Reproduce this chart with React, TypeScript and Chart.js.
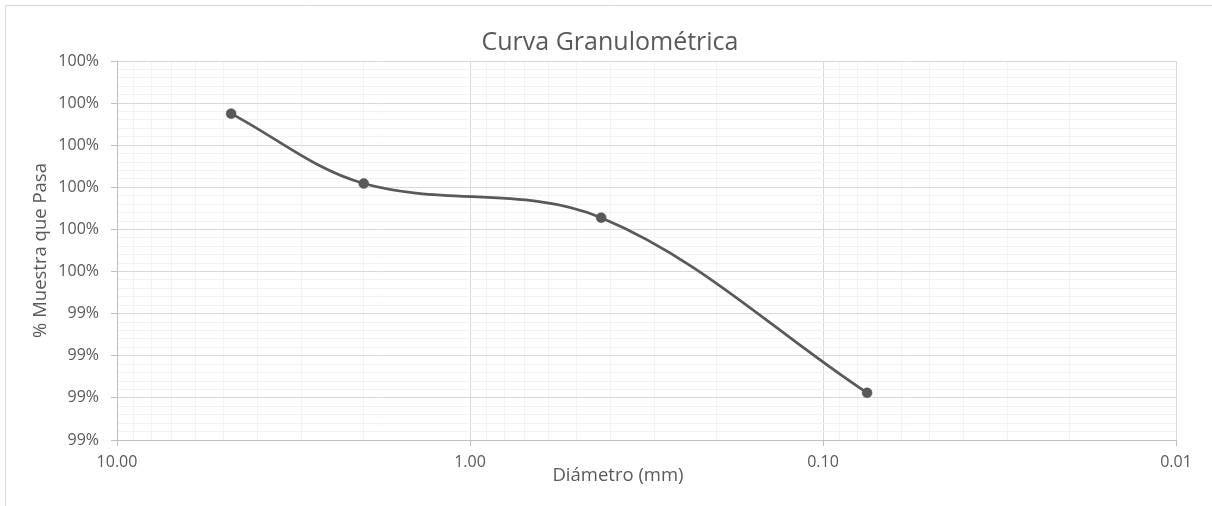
import { useEffect, useRef } from 'react';
import { Chart, registerables } from 'chart.js';

Chart.register(...registerables);

// Sieve openings (mm) and cumulative percentage passing
const diametersMm = [4.75, 2.0, 0.425, 0.075];
const percentPassing = [99.875, 99.709, 99.628, 99.212];

// Axis definitions
const xMajorTicks = [10, 1, 0.1, 0.01];
const xMajorLabels = ['10.00', '1.00', '0.10', '0.01'];
const yMin = 99.1;
const yMax = 100.0;
const yMajorStep = 0.1;
const yMinorPerMajor = 5;

const chartTitle = 'Curva Granulométrica';
const xAxisTitle = 'Diámetro (mm)';
const yAxisTitle = '% Muestra que Pasa';

const FONT = "'Open Sans', 'Noto Sans', sans-serif";
const TEXT_COLOR = '#595959';
const MAJOR_GRID = '#d9d9d9';
const MINOR_GRID = '#f2f2f2';
const AXIS_LINE = '#bfbfbf';

const isMajorX = (v: number) => xMajorTicks.some((m) => Math.abs(Math.log10(v) - Math.log10(m)) < 1e-6);

// Titles and the outer frame are painted by this plugin
const decorations = {
  id: 'decorations',
  beforeDraw(chart: any) {
    const { ctx } = chart;
    ctx.save();
    ctx.strokeStyle = MAJOR_GRID;
    ctx.lineWidth = 1;
    ctx.beginPath();
    ctx.moveTo(5.5, chart.height + 2);
    ctx.lineTo(5.5, 5.5);
    ctx.lineTo(chart.width + 2, 5.5);
    ctx.stroke();
    ctx.restore();
  },
  afterDraw(chart: any) {
    const { ctx, chartArea } = chart;
    ctx.save();
    ctx.fillStyle = TEXT_COLOR;
    ctx.textAlign = 'center';
    ctx.textBaseline = 'alphabetic';

    ctx.font = `25px ${FONT}`;
    ctx.fillText(chartTitle, 610, 50);

    ctx.font = `18.5px ${FONT}`;
    ctx.fillText(xAxisTitle, 618, 481);

    ctx.translate(46, (chartArea.top + chartArea.bottom) / 2);
    ctx.rotate(-Math.PI / 2);
    ctx.fillText(yAxisTitle, 0, 0);
    ctx.restore();
  },
};

export default function App() {
  const canvasRef = useRef<HTMLCanvasElement | null>(null);

  useEffect(() => {
    if (!canvasRef.current) return;
    const points = diametersMm.map((d, i) => ({ x: d, y: percentPassing[i] }));

    const chart = new Chart(canvasRef.current, {
      type: 'scatter',
      data: {
        datasets: [
          {
            data: points,
            showLine: true,
            borderColor: '#595959',
            borderWidth: 2.75,
            tension: 0.35,
            pointRadius: 5,
            pointBorderWidth: 0.5,
            pointBackgroundColor: '#595959',
            pointBorderColor: '#595959',
          },
        ],
      },
      options: {
        animation: false,
        responsive: false,
        events: [],
        layout: { padding: { left: 0, top: 61, right: 36, bottom: 0 } },
        plugins: {
          legend: { display: false },
          title: { display: false },
          tooltip: { enabled: false },
        },
        scales: {
          x: {
            type: 'logarithmic',
            reverse: true,
            min: 0.01,
            max: 10,
            afterBuildTicks(scale: any) {
              const ticks: any[] = [];
              for (const base of [0.01, 0.1, 1]) {
                for (let m = 1; m <= 9; m++) {
                  const v = Number((m * base).toPrecision(6));
                  ticks.push({ value: v, major: isMajorX(v) });
                }
              }
              ticks.push({ value: 10, major: true });
              scale.ticks = ticks;
            },
            afterFit(scale: any) {
              scale.height = 66;
            },
            grid: {
              color: (c: any) => (c.tick && c.tick.major ? MAJOR_GRID : MINOR_GRID),
              tickColor: (c: any) => (c.tick && c.tick.major ? AXIS_LINE : 'rgba(0,0,0,0)'),
              tickLength: 6,
              lineWidth: 1,
            },
            border: { display: true, color: AXIS_LINE, width: 1 },
            ticks: {
              autoSkip: false,
              maxRotation: 0,
              padding: 7,
              color: TEXT_COLOR,
              font: { family: FONT, size: 16 },
              callback(value: any) {
                const v = Number(value);
                const idx = xMajorTicks.findIndex((m) => Math.abs(Math.log10(v) - Math.log10(m)) < 1e-6);
                return idx >= 0 ? xMajorLabels[idx] : '';
              },
            },
          },
          y: {
            type: 'linear',
            min: yMin,
            max: yMax,
            afterBuildTicks(scale: any) {
              const count = Math.round((yMax - yMin) / yMajorStep) * yMinorPerMajor;
              const ticks: any[] = [];
              for (let i = 0; i <= count; i++) {
                const v = Number((yMin + (i * yMajorStep) / yMinorPerMajor).toFixed(4));
                ticks.push({ value: v, major: i % yMinorPerMajor === 0 });
              }
              scale.ticks = ticks;
            },
            afterFit(scale: any) {
              scale.width = 117;
            },
            grid: {
              color: (c: any) => (c.tick && c.tick.major ? MAJOR_GRID : MINOR_GRID),
              tickColor: (c: any) => (c.tick && c.tick.major ? AXIS_LINE : 'rgba(0,0,0,0)'),
              tickLength: 6,
              lineWidth: 1,
            },
            border: { display: true, color: AXIS_LINE, width: 1 },
            ticks: {
              autoSkip: false,
              padding: 12,
              color: TEXT_COLOR,
              font: { family: FONT, size: 16 },
              callback(value: any, index: number, ticks: any[]) {
                if (!ticks[index] || !ticks[index].major) return '';
                return `${Math.round(Number(Number(value).toFixed(2)))}%`;
              },
            },
          },
        },
      },
      plugins: [decorations],
    } as any);

    return () => chart.destroy();
  }, []);

  return (
    <div style={{ position: 'fixed', left: 0, top: 0, width: 1212, height: 506, background: '#ffffff', overflow: 'hidden' }}>
      <canvas ref={canvasRef} width={1212} height={506} style={{ display: 'block' }} />
    </div>
  );
}
